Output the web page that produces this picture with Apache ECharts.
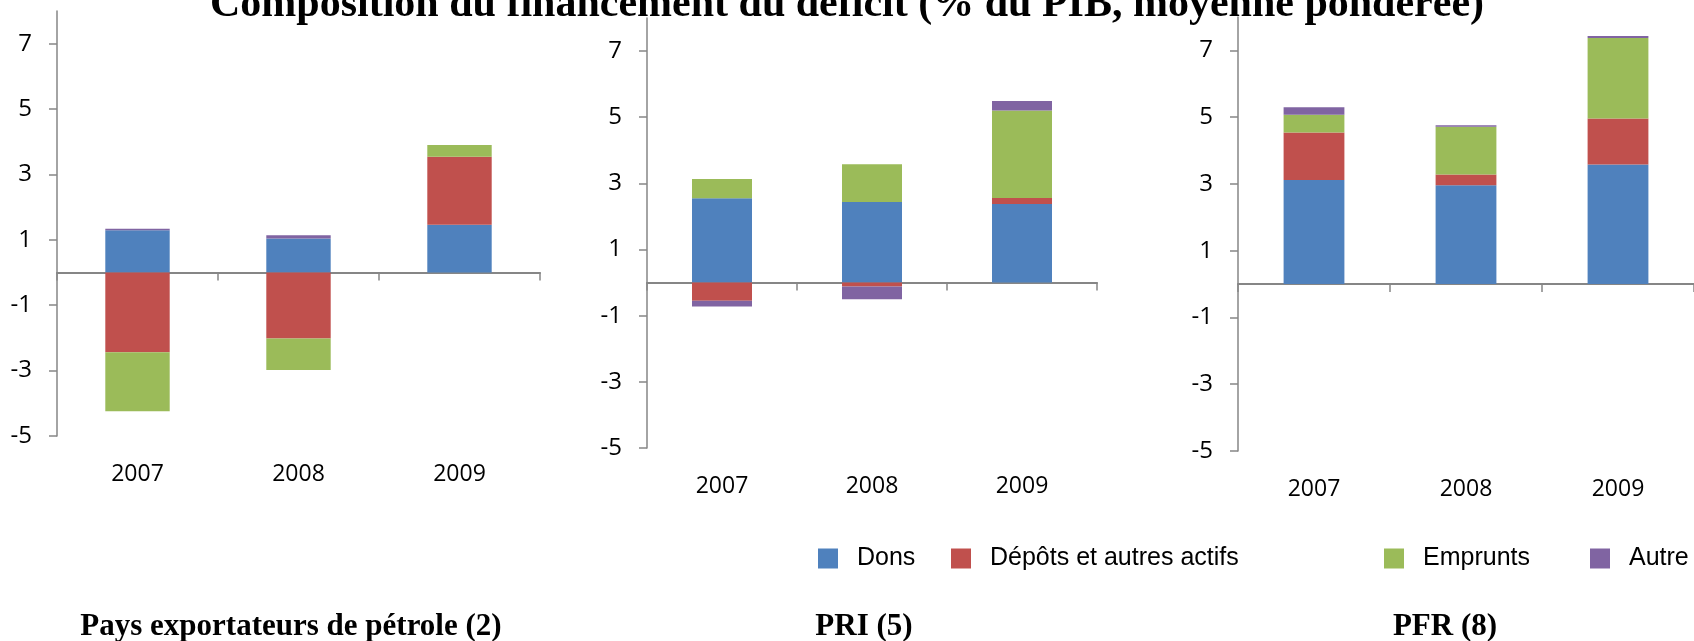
<!DOCTYPE html>
<html>
<head>
<meta charset="utf-8">
<script src="https://cdn.jsdelivr.net/npm/echarts@6/dist/echarts.min.js"></script>
<style>
  html, body { margin: 0; padding: 0; background: #fff; }
  #main { width: 1694px; height: 641px; }
</style>
</head>
<body>
<div id="main"></div>
<script>
// categories / ticks
var years = ['2007', '2008', '2009'];
var tickVals = [-5, -3, -1, 1, 3, 5, 7];
var seriesNames = ['Dons', 'Dépôts et autres actifs', 'Emprunts', 'Autre'];
var panelNames = ['Pays exportateurs de pétrole (2)', 'PRI (5)', 'PFR (8)'];

// Pays exportateurs de pétrole (2)
var petroleDons = [1.29, 1.04, 1.46];
var petroleDepots = [-2.44, -2.02, 2.08];
var petroleEmprunts = [-1.80, -0.96, 0.36];
var petroleAutre = [0.05, 0.10, 0];

// PRI (5)
var priDons = [2.55, 2.44, 2.38];
var priDepots = [-0.55, -0.12, 0.18];
var priEmprunts = [0.58, 1.14, 2.64];
var priAutre = [-0.17, -0.38, 0.29];

// PFR (8)
var pfrDons = [3.12, 2.96, 3.58];
var pfrDepots = [1.42, 0.32, 1.38];
var pfrEmprunts = [0.53, 1.43, 2.41];
var pfrAutre = [0.23, 0.05, 0.06];

var panelData = [
  [petroleDons, petroleDepots, petroleEmprunts, petroleAutre],
  [priDons, priDepots, priEmprunts, priAutre],
  [pfrDons, pfrDepots, pfrEmprunts, pfrAutre]
];

var colors = ['#4F81BD', '#C0504D', '#9BBB59', '#8064A2'];
var axisGray = '#868686';
var labelFont = '"Open Sans", "Noto Sans", sans-serif';
var serif = '"Liberation Serif", "DejaVu Serif", serif';

var chart = echarts.init(document.getElementById('main'), null, { renderer: 'canvas' });

// grid boxes (px)
var grids = [
  { left: 57, top: 11, width: 483, height: 425 },
  { left: 647, top: 18, width: 450, height: 430 },
  { left: 1238, top: 17, width: 462, height: 434 }
];

var xAxes = [], yAxes = [], series = [];
grids.forEach(function (g, i) {
  // axis on the zero line, ticks only
  xAxes.push({
    type: 'category', gridIndex: i, data: years,
    axisLine: { onZero: true, lineStyle: { color: axisGray, width: 2 } },
    axisTick: { show: true, length: 8, lineStyle: { color: axisGray, width: 1.5 } },
    axisLabel: { show: false },
    splitLine: { show: false }
  });
  yAxes.push({
    type: 'value', gridIndex: i, min: -5, max: 8,
    axisLine: { show: true, lineStyle: { color: axisGray, width: 1.5 } },
    axisTick: { show: true, length: 8, customValues: tickVals, lineStyle: { color: axisGray, width: 1.5 } },
    axisLabel: { customValues: tickVals, color: '#000', fontFamily: labelFont, fontSize: 24, margin: 25 },
    splitLine: { show: false }
  });
  panelData[i].forEach(function (vals, k) {
    series.push({
      name: seriesNames[k], type: 'bar', stack: 'p' + i,
      xAxisIndex: i, yAxisIndex: i,
      barWidth: '40%',
      itemStyle: { color: colors[k] },
      data: vals
    });
  });
});
// label axes at the bottom of each grid
grids.forEach(function (g, i) {
  xAxes.push({
    type: 'category', gridIndex: i, data: years, position: 'bottom',
    axisLine: { show: false, onZero: false },
    axisTick: { show: false },
    axisLabel: { color: '#000', fontFamily: labelFont, fontSize: 23, margin: 27 },
    splitLine: { show: false }
  });
});

var legendLefts = [813, 946, 1379, 1585];
var legends = seriesNames.map(function (n, k) {
  return {
    data: [n], left: legendLefts[k], top: 541,
    icon: 'rect', itemWidth: 20, itemHeight: 20, itemGap: 0,
    textStyle: { color: '#000', fontFamily: '"Liberation Sans", Arial, sans-serif', fontSize: 25, padding: [0, 0, 0, 14] },
    selectedMode: false
  };
});

var titles = [{
  text: 'Composition du financement du déficit (% du PIB, moyenne pondérée)',
  left: 'center', top: -21,
  textStyle: { fontFamily: serif, fontWeight: 'bold', fontSize: 42, color: '#000' }
}];
var subCenters = [286, 859, 1440];
panelNames.forEach(function (n, i) {
  titles.push({
    text: n, left: subCenters[i], top: 606, textAlign: 'center',
    textStyle: { fontFamily: serif, fontWeight: 'bold', fontSize: 31, color: '#000' }
  });
});

var option = {
  animation: false,
  backgroundColor: '#fff',
  title: titles,
  legend: legends,
  grid: grids,
  xAxis: xAxes,
  yAxis: yAxes,
  series: series
};
chart.setOption(option);
</script>
</body>
</html>
